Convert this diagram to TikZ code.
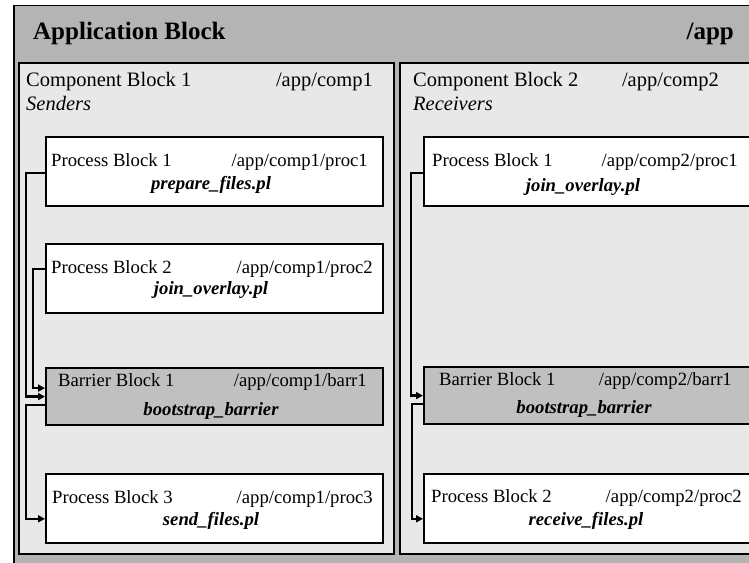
\documentclass[tikz,border=0pt]{standalone}
\usepackage{fontspec}
\setmainfont{Liberation Serif}
\usetikzlibrary{calc,arrows.meta}
\definecolor{appgray}{RGB}{180,180,180}
\definecolor{compgray}{RGB}{232,232,232}
\definecolor{barrgray}{RGB}{192,192,192}
\tikzset{
  appbox/.style={draw=black, line width=1.5bp, fill=appgray, inner sep=0, anchor=north west},
  compbox/.style={draw=black, line width=1.6bp, fill=compgray, inner sep=0, anchor=north west, minimum width=375bp, minimum height=491bp},
  procbox/.style={draw=black, line width=1.6bp, fill=white, inner sep=0, anchor=north west, minimum width=337bp, minimum height=69bp},
  barrbox/.style={draw=black, line width=2.2bp, fill=barrgray, inner sep=0, anchor=north west, minimum width=337bp, minimum height=57bp},
  titletxt/.style={inner sep=0, font=\fontsize{25bp}{30bp}\selectfont\bfseries},
  comptxt/.style={inner sep=0, font=\fontsize{20.5bp}{24bp}\selectfont},
  lbl/.style={inner sep=0, font=\fontsize{18.7bp}{22bp}\selectfont},
  scriptlbl/.style={inner sep=0, anchor=base, font=\fontsize{18.7bp}{22bp}\selectfont\bfseries\itshape},
  conn/.style={line width=2.3bp, -{Triangle[length=7bp,width=7bp]}}
}
\begin{document}
\begin{tikzpicture}[x=1bp,y=-1bp]
\useasboundingbox (0,0) rectangle (749,563);
\clip (0,0) rectangle (749,563);
\fill[white] (0,0) rectangle (749,563);
% application block
\node[appbox, minimum width=800bp, minimum height=620bp] (app) at (13,5) {};
\node[titletxt, anchor=base west] (apptitle) at (33,40) {Application Block};
\node[titletxt, anchor=base east] (apppath) at (734,40) {/app};
% component blocks
\node[compbox] (comp1) at (18,62) {};
\node[compbox] (comp2) at (399,62) {};
\node[comptxt, anchor=base west] (c1name) at (26,87) {Component Block 1};
\node[comptxt, anchor=base east] (c1path) at (373,87) {/app/comp1};
\node[comptxt, anchor=base west, font=\fontsize{20.5bp}{24bp}\selectfont\itshape] (c1role) at (26,111) {Senders};
\node[comptxt, anchor=base west] (c2name) at (413,87) {Component Block 2};
\node[comptxt, anchor=base east] (c2path) at (719,87) {/app/comp2};
\node[comptxt, anchor=base west, font=\fontsize{20.5bp}{24bp}\selectfont\itshape] (c2role) at (413,111) {Receivers};
% component 1 blocks
\node[procbox] (p11) at (45,136) {};
\node[lbl, anchor=base west] (p11a) at (51,167) {Process Block 1};
\node[lbl, anchor=base east] (p11b) at (368,167) {/app/comp1/proc1};
\node[scriptlbl] (p11c) at (211,190) {prepare\_files.pl};
\node[procbox] (p12) at (45,243) {};
\node[lbl, anchor=base west] (p12a) at (51,273) {Process Block 2};
\node[lbl, anchor=base east] (p12b) at (373,273) {/app/comp1/proc2};
\node[scriptlbl] (p12c) at (211,294) {join\_overlay.pl};
\node[barrbox] (b1) at (45,367) {};
\node[lbl, anchor=base west] (b1a) at (58,386) {Barrier Block 1};
\node[lbl, anchor=base east] (b1b) at (367,386) {/app/comp1/barr1};
\node[scriptlbl] (b1c) at (211,415) {bootstrap\_barrier};
\node[procbox] (p13) at (45,473) {};
\node[lbl, anchor=base west] (p13a) at (52,503) {Process Block 3};
\node[lbl, anchor=base east] (p13b) at (373,503) {/app/comp1/proc3};
\node[scriptlbl] (p13c) at (211,525) {send\_files.pl};
% component 2 blocks
\node[procbox] (p21) at (423,136) {};
\node[lbl, anchor=base west] (p21a) at (432,167) {Process Block 1};
\node[lbl, anchor=base east] (p21b) at (738,167) {/app/comp2/proc1};
\node[scriptlbl] (p21c) at (583,192) {join\_overlay.pl};
\node[barrbox] (b2) at (423,366) {};
\node[lbl, anchor=base west] (b2a) at (439,385) {Barrier Block 1};
\node[lbl, anchor=base east] (b2b) at (732,385) {/app/comp2/barr1};
\node[scriptlbl] (b2c) at (584,413) {bootstrap\_barrier};
\node[procbox] (p22) at (423,473) {};
\node[lbl, anchor=base west] (p22a) at (431,502) {Process Block 2};
\node[lbl, anchor=base east] (p22b) at (742,502) {/app/comp2/proc2};
\node[scriptlbl] (p22c) at (586,525) {receive\_files.pl};
% connectors component 1
\draw[conn] ($(p11.west)+(0,1.5)$) -| ($(b1.west)+(-19,0)$) -- (b1.west);
\draw[conn] ($(p12.west)+(0,-9.5)$) -| ($(b1.west)+(-12,-8.5)$) -- ($(b1.west)+(0,-8.5)$);
\draw[conn] ($(b1.west)+(0,8.5)$) -| ($(p13.west)+(-19,10.5)$) -- ($(p13.west)+(0,10.5)$);
% connectors component 2
\draw[conn] ($(p21.west)+(0,1.5)$) -| ($(b2.west)+(-12,0)$) -- (b2.west);
\draw[conn] ($(b2.west)+(0,8.5)$) -| ($(p22.west)+(-11,10.5)$) -- ($(p22.west)+(0,10.5)$);
\end{tikzpicture}
\end{document}
